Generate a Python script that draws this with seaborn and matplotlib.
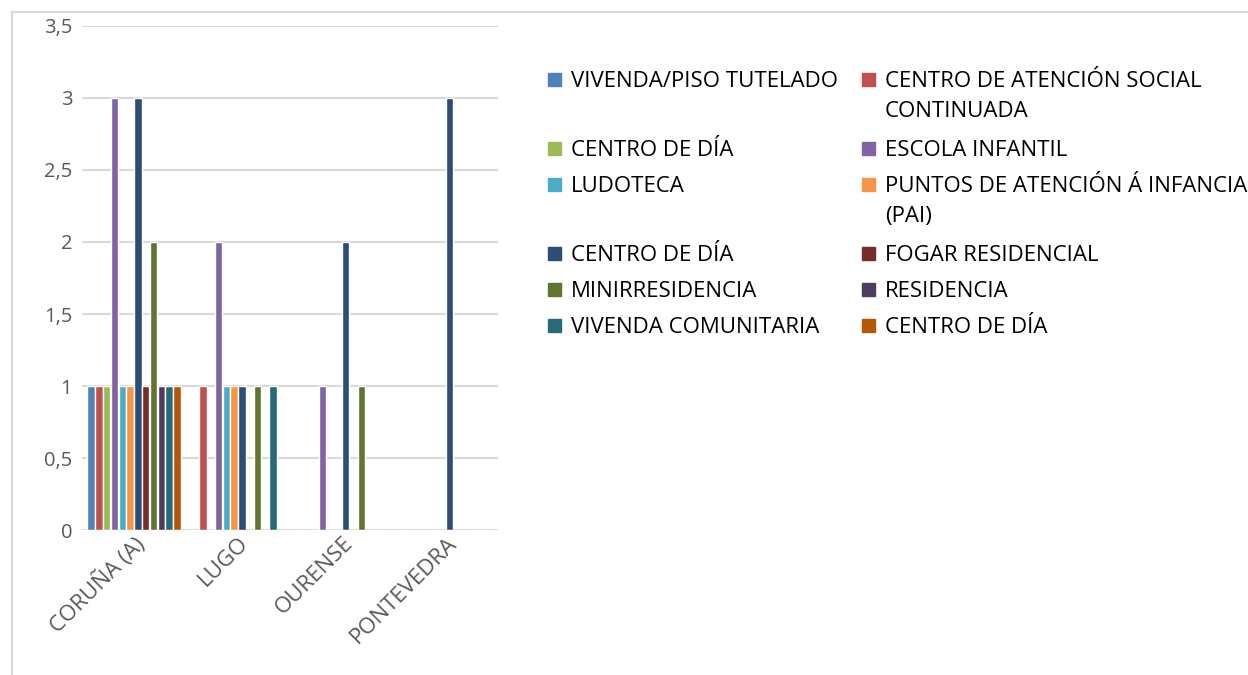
import numpy as np
import pandas as pd
import matplotlib
matplotlib.use('Agg')
import matplotlib.pyplot as plt
from matplotlib.patches import Rectangle
import seaborn as sns

provincias = ['CORUÑA (A)', 'LUGO', 'OURENSE', 'PONTEVEDRA']
servizos = ['VIVENDA/PISO TUTELADO', 'CENTRO DE ATENCIÓN SOCIAL\nCONTINUADA',
            'CENTRO DE DÍA', 'ESCOLA INFANTIL', 'LUDOTECA',
            'PUNTOS DE ATENCIÓN Á INFANCIA\n(PAI)', 'CENTRO DE DÍA ', 'FOGAR RESIDENCIAL',
            'MINIRRESIDENCIA', 'RESIDENCIA', 'VIVENDA COMUNITARIA', 'CENTRO DE DÍA  ']
cores = ['#4F81BD', '#C0504D', '#9BBB59', '#8064A2', '#4BACC6', '#F79646',
         '#2C4D75', '#772C2A', '#5F7530', '#4D3B62', '#276A7C', '#B65708']

# valores por servizo, na orde das provincias
vivenda_piso = [1, 0, 0, 0]
centro_atencion = [1, 1, 0, 0]
centro_dia_1 = [1, 0, 0, 0]
escola_infantil = [3, 2, 1, 0]
ludoteca = [1, 1, 0, 0]
pai = [1, 1, 0, 0]
centro_dia_2 = [3, 1, 2, 3]
fogar = [1, 0, 0, 0]
minirresidencia = [2, 1, 1, 0]
residencia = [1, 0, 0, 0]
vivenda_comunitaria = [1, 1, 0, 0]
centro_dia_3 = [1, 0, 0, 0]

valores = [vivenda_piso, centro_atencion, centro_dia_1, escola_infantil, ludoteca, pai,
           centro_dia_2, fogar, minirresidencia, residencia, vivenda_comunitaria, centro_dia_3]

filas = []
for s, vals in zip(servizos, valores):
    for p, v in zip(provincias, vals):
        filas.append({'provincia': p, 'servizo': s, 'valor': v})
df = pd.DataFrame(filas)

sns.set_style('white')
plt.rcParams['font.family'] = ['Open Sans', 'DejaVu Sans']
gris = '#595959'

fig = plt.figure(figsize=(12.48, 6.75), dpi=100)
ax = fig.add_axes([0.0657, 0.2148, 0.3333, 0.7467])

sns.barplot(data=df, x='provincia', y='valor', hue='servizo', hue_order=servizos,
            palette=cores, width=0.9, gap=0.07, ax=ax, legend=False, saturation=1)

ax.set_ylim(0, 3.5)
ax.set_xlim(-0.5, 3.5)
ticks = np.arange(0, 3.51, 0.5)
ax.set_yticks(ticks)
ax.set_yticklabels([('%g' % t).replace('.', ',') for t in ticks], color=gris, fontsize=14.5)
ax.set_xticks(range(len(provincias)))
ax.set_xticklabels(provincias, rotation=45, ha='right', va='top', rotation_mode='anchor',
                   color=gris, fontsize=16)
ax.tick_params(axis='y', length=0, pad=7)
ax.tick_params(axis='x', length=0, pad=2)
ax.set_xlabel('')
ax.set_ylabel('')
for sp in ax.spines.values():
    sp.set_visible(False)
ax.yaxis.grid(True, color='#d9d9d9', linewidth=1.5)
ax.set_axisbelow(True)

# lenda en dúas columnas, fila a fila
W, H = 1248, 675
x_col = [548, 862]
y = 80
for r in range(0, len(servizos), 2):
    nmax = 1
    for c in range(2):
        i = r + c
        if i >= len(servizos):
            continue
        lab = servizos[i].strip()
        nmax = max(nmax, lab.count('\n') + 1)
        fig.patches.append(Rectangle((x_col[c] / W, 1 - (y + 6) / H), 13 / W, 13 / H,
                                     transform=fig.transFigure, color=cores[i]))
        fig.text((x_col[c] + 23) / W, 1 - (y - 9) / H, lab, fontsize=16, color='black',
                 va='top', ha='left', linespacing=1.55)
    y += (nmax - 1) * 33 + 36

fig.patches.append(Rectangle((12 / W, -0.1), 1.1, 1 - 12 / H + 0.1, transform=fig.transFigure,
                             fill=False, edgecolor='#d9d9d9', linewidth=1.5))

fig.savefig('out.png', dpi=100)
